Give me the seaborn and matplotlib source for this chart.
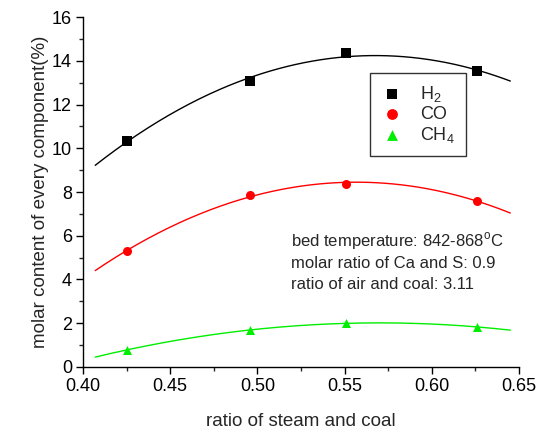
import numpy as np
import pandas as pd
import matplotlib
matplotlib.use("Agg")
import matplotlib.pyplot as plt
import seaborn as sns
from matplotlib.ticker import MultipleLocator

sns.set_style("ticks")
plt.rcParams['font.family'] = ['Liberation Sans', 'DejaVu Sans']
plt.rcParams['mathtext.fontset'] = 'custom'
plt.rcParams['mathtext.rm'] = 'Liberation Sans'

steam_ratio = [0.425, 0.496, 0.551, 0.626]
h2 = [10.33, 13.07, 14.35, 13.53]
co = [5.30, 7.86, 8.37, 7.60]
ch4 = [0.78, 1.69, 2.00, 1.83]
labels = ["H$_2$", "CO", "CH$_4$"]
colors = ["black", "#ff0000", "#00ee00"]
markers = ["s", "o", "^"]
fit_range = [0.407, 0.645]

fig = plt.figure(figsize=(5.44, 4.32), dpi=100)
ax = fig.add_axes([0.1526, 0.1505, 0.8015, 0.8101])

xs = np.linspace(fit_range[0], fit_range[1], 200)
for vals, lab, c, m in zip([h2, co, ch4], labels, colors, markers):
    coef = np.polyfit(steam_ratio, vals, 2)
    sns.lineplot(x=xs, y=np.polyval(coef, xs), color=c, lw=1.0, ax=ax)
    sns.scatterplot(x=steam_ratio, y=vals, color=c, marker=m, s=42,
                    edgecolor=c, linewidth=0, ax=ax, label=lab, zorder=3)

ax.set_xlim(0.40, 0.65)
ax.set_ylim(0, 16)
ax.xaxis.set_major_locator(MultipleLocator(0.05))
ax.xaxis.set_minor_locator(MultipleLocator(0.025))
ax.yaxis.set_major_locator(MultipleLocator(2))
ax.yaxis.set_minor_locator(MultipleLocator(1))
ax.xaxis.set_major_formatter(matplotlib.ticker.FormatStrFormatter('%.2f'))
ax.tick_params(which='major', direction='out', length=5, width=1, labelsize=13,
               colors='black', pad=3)
ax.tick_params(which='minor', direction='out', length=3, width=1)
for s in ['top', 'right']:
    ax.spines[s].set_visible(False)
for s in ['left', 'bottom']:
    ax.spines[s].set_color('black')
    ax.spines[s].set_linewidth(1)

ax.set_xlabel("ratio of steam and coal", fontsize=13.5, labelpad=13)
ax.set_ylabel("molar content of every component(%)", fontsize=13.5, labelpad=2)

ax.text(0.519, 5.75, "bed temperature: 842-868$^\\mathrm{o}$C", fontsize=12, va='center')
ax.text(0.519, 4.75, "molar ratio of Ca and S: 0.9", fontsize=12, va='center')
ax.text(0.519, 3.78, "ratio of air and coal: 3.11", fontsize=12, va='center')

leg = ax.legend(loc='upper left', bbox_to_anchor=(0.658, 0.84), fontsize=13,
                frameon=True, fancybox=False, edgecolor='black', borderpad=0.6,
                handletextpad=1.0, labelspacing=0.12, handlelength=1.2,
                borderaxespad=0, markerscale=1.2)
leg.get_frame().set_linewidth(1)

fig.savefig("out.png", dpi=100)
